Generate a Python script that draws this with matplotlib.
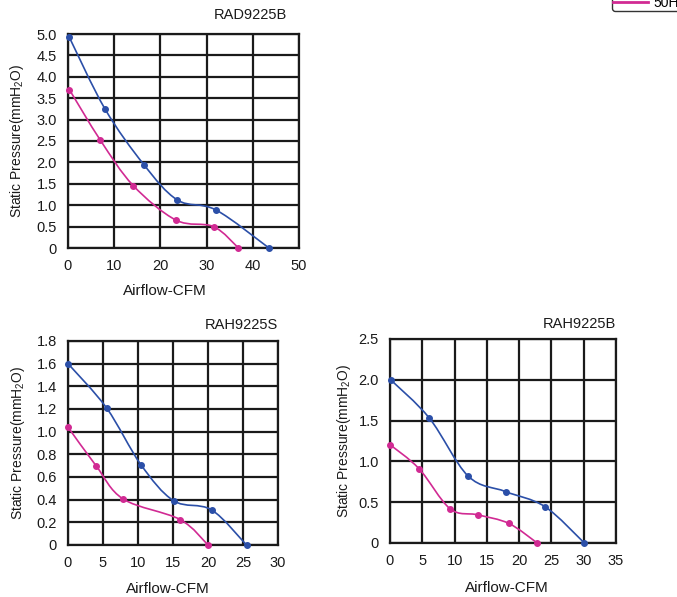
import numpy as np
import matplotlib
matplotlib.use('Agg')
import matplotlib.pyplot as plt
from matplotlib.path import Path
from matplotlib.patches import PathPatch
from matplotlib.lines import Line2D

plt.rcParams['font.family'] = ['Liberation Sans', 'DejaVu Sans']
plt.rcParams['mathtext.fontset'] = 'custom'
plt.rcParams['mathtext.rm'] = 'Liberation Sans'
plt.rcParams['mathtext.it'] = 'Liberation Sans'

# ================== data ==================
# RAD9225B
rad_b_x60 = [0.3, 8.0, 16.4, 23.7, 32.0, 43.5]
rad_b_y60 = [4.92, 3.25, 1.95, 1.12, 0.89, 0.0]
rad_b_x50 = [0.3, 7.0, 14.1, 23.4, 31.5, 36.9]
rad_b_y50 = [3.70, 2.52, 1.46, 0.65, 0.50, 0.0]

# RAH9225S
rah_s_x60 = [0.0, 5.5, 10.4, 15.1, 20.5, 25.5]
rah_s_y60 = [1.60, 1.21, 0.71, 0.39, 0.31, 0.0]
rah_s_x50 = [0.0, 4.0, 7.9, 16.0, 20.0]
rah_s_y50 = [1.04, 0.70, 0.405, 0.225, 0.0]

# RAH9225B
rah_b_x60 = [0.1, 6.1, 12.1, 17.9, 24.0, 30.1]
rah_b_y60 = [2.00, 1.53, 0.82, 0.63, 0.445, 0.0]
rah_b_x50 = [0.0, 4.5, 9.3, 13.6, 18.4, 22.8]
rah_b_y50 = [1.205, 0.91, 0.42, 0.345, 0.24, 0.0]

legend_labels = ['60Hz', '50Hz']

c60 = '#2b4fa8'
c50 = '#d12a93'
W, H = 677, 597


def smooth_path(xs, ys):
    # bezier through the points, like a "smoothed line"
    p = np.column_stack([xs, ys]).astype(float)
    verts = [p[0]]
    codes = [Path.MOVETO]
    n = len(p)
    for i in range(n - 1):
        p0 = p[i - 1] if i > 0 else p[i]
        p1 = p[i]
        p2 = p[i + 1]
        p3 = p[i + 2] if i + 2 < n else p[i + 1]
        c1 = p1 + (p2 - p0) / 6.0
        c2 = p2 - (p3 - p1) / 6.0
        verts += [c1, c2, p2]
        codes += [Path.CURVE4] * 3
    return Path(verts, codes)


def draw_panel(box, title, xmax, xstep, ymax, ystep, series,
               xlab_y, xlab_x, ylab_x, title_x, title_off):
    l, t, r, b = box
    ax = fig.add_axes([l / W, 1 - b / H, (r - l) / W, (b - t) / H])
    for xs, ys, col in series:
        ax.add_patch(PathPatch(smooth_path(xs, ys), fill=False, edgecolor=col,
                               lw=1.2, zorder=3))
        ax.plot(xs, ys, 'o', color=col, ms=4, zorder=4, clip_on=False)
    ax.set_xlim(0, xmax)
    ax.set_ylim(0, ymax)
    xt = np.arange(0, xmax + 0.001, xstep)
    yt = np.arange(0, ymax + 0.001, ystep)
    ax.set_xticks(xt)
    ax.set_xticklabels([f'{v:g}' for v in xt])
    ax.set_yticks(yt)
    ax.set_yticklabels(['0'] + [f'{v:.1f}' for v in yt[1:]])
    ax.grid(True, color='#1a1a1a', lw=1.6)
    ax.set_axisbelow(True)
    for s in ax.spines.values():
        s.set_linewidth(1.6)
        s.set_color('#1a1a1a')
    ax.tick_params(length=0, labelsize=10.5, pad=8, colors='#1a1a1a')
    ax.set_xlabel('Airflow-CFM', fontsize=11, color='#1a1a1a')
    ax.set_ylabel(r'Static Pressure(mmH$_2$O)', fontsize=10, color='#1a1a1a')
    ax.xaxis.set_label_coords(xlab_x, xlab_y)
    ax.yaxis.set_label_coords(ylab_x, 0.5)
    ax.text(title_x, 1.0 + title_off / (b - t), title, transform=ax.transAxes,
            ha='right', va='center', fontsize=10.5, color='#1a1a1a')
    return ax


fig = plt.figure(figsize=(W / 100, H / 100), dpi=100)

draw_panel((68, 34, 299, 248), 'RAD9225B', 50, 10, 5.0, 0.5,
           [(rad_b_x60, rad_b_y60, c60), (rad_b_x50, rad_b_y50, c50)],
           -0.17, 0.42, -0.182, 0.95, 19)
draw_panel((68, 341, 278, 545), 'RAH9225S', 30, 5, 1.8, 0.2,
           [(rah_s_x60, rah_s_y60, c60), (rah_s_x50, rah_s_y50, c50)],
           -0.18, 0.476, -0.195, 1.0, 16)
draw_panel((390, 339, 616, 543), 'RAH9225B', 35, 5, 2.5, 0.5,
           [(rah_b_x60, rah_b_y60, c60), (rah_b_x50, rah_b_y50, c50)],
           -0.185, 0.518, -0.164, 1.0, 15)

handles = [Line2D([], [], color=c60, lw=2), Line2D([], [], color=c50, lw=2)]
fig.legend(handles, legend_labels, loc='lower left',
           bbox_to_anchor=(612 / W, 1 - 11 / H), borderaxespad=0, fontsize=10,
           frameon=True, edgecolor='#333333', fancybox=True, framealpha=1,
           handlelength=2.5, borderpad=0.1, labelspacing=0.1, handletextpad=0.4)

fig.savefig('out.png', dpi=100)
